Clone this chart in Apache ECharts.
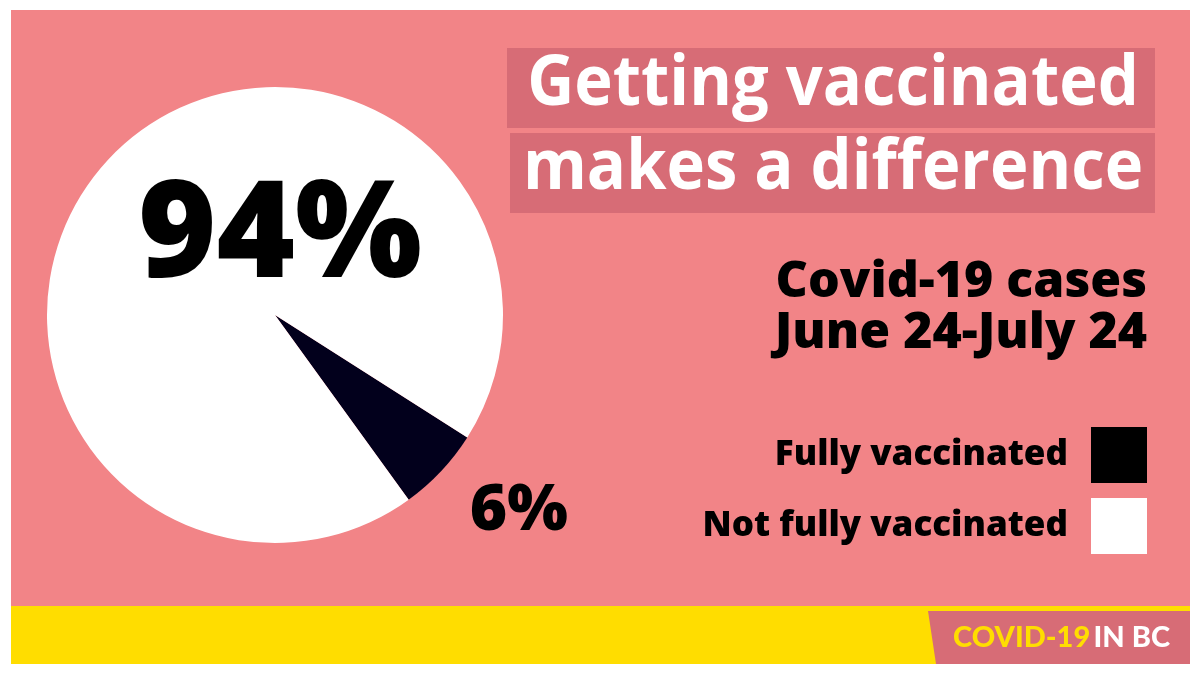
<!DOCTYPE html>
<html lang="en">
<head>
    <meta charset="UTF-8">
    <title>Getting vaccinated makes a difference</title>
    <script src="https://cdn.jsdelivr.net/npm/echarts@6/dist/echarts.min.js"></script>
    <style>
        html, body { margin: 0; padding: 0; background: #fff; }
    </style>
</head>
<body>
    <div id="chart" style="width: 1200px; height: 675px;"></div>
    <script>
        // data
        const groups = ['Fully vaccinated', 'Not fully vaccinated'];
        const shares = [6, 94];
        const sliceColors = ['#02001c', '#ffffff'];
        const legendColors = ['#000000', '#ffffff'];
        const headline = ['Getting vaccinated', 'makes a difference'];
        const subtitle = ['Covid-19 cases', 'June 24-July 24'];

        const pink = '#f28487';
        const darkPink = '#d76c76';
        const yellow = '#ffdd00';
        const font = '"Open Sans", "Noto Sans", sans-serif';

        var myChart = echarts.init(document.getElementById('chart'));

        const pieData = groups.map((g, i) => ({
            name: g,
            value: shares[i],
            itemStyle: { color: sliceColors[i] },
            label: i === 1
                ? { position: 'center', fontSize: 134 }
                : { position: 'outside', fontSize: 64 }
        }));

        const option = {
            backgroundColor: '#ffffff',
            animation: false,
            graphic: [
                // background panels
                { type: 'rect', z: -10, shape: { x: 11, y: 10, width: 1179, height: 597 }, style: { fill: pink } },
                { type: 'rect', z: -10, shape: { x: 11, y: 606, width: 1179, height: 58 }, style: { fill: yellow } },
                { type: 'polygon', z: -9, shape: { points: [[928, 611], [1190, 611], [1190, 664], [936, 664]] }, style: { fill: darkPink } },
                {
                    type: 'text', z: 5, x: 1170, y: 638,
                    style: {
                        text: '{a|COVID-19} {b|IN BC}',
                        align: 'right', verticalAlign: 'middle',
                        rich: {
                            a: { fontFamily: 'Lato, sans-serif', fontWeight: 900, fontSize: 29, fill: yellow },
                            b: { fontFamily: 'Lato, sans-serif', fontWeight: 900, fontSize: 29, fill: '#ffffff' }
                        }
                    }
                },
                // headline boxes
                { type: 'rect', z: -5, shape: { x: 507, y: 48, width: 648, height: 80 }, style: { fill: darkPink } },
                { type: 'rect', z: -5, shape: { x: 510, y: 133, width: 645, height: 80 }, style: { fill: darkPink } },
                {
                    type: 'text', x: 833, y: 85, scaleX: 0.93,
                    style: { text: headline[0], align: 'center', verticalAlign: 'middle', fontFamily: font, fontWeight: 'bold', fontSize: 70, fill: '#ffffff' }
                },
                {
                    type: 'text', x: 833, y: 169, scaleX: 0.93,
                    style: { text: headline[1], align: 'center', verticalAlign: 'middle', fontFamily: font, fontWeight: 'bold', fontSize: 70, fill: '#ffffff' }
                },
                // subtitle
                {
                    type: 'text', x: 1147, y: 283,
                    style: { text: subtitle[0], align: 'right', verticalAlign: 'middle', fontFamily: font, fontWeight: 800, fontSize: 50, fill: '#000000' }
                },
                {
                    type: 'text', x: 1147, y: 334,
                    style: { text: subtitle[1], align: 'right', verticalAlign: 'middle', fontFamily: font, fontWeight: 800, fontSize: 50, fill: '#000000' }
                }
            ],
            legend: {
                orient: 'vertical',
                right: 53,
                top: 427,
                padding: 0,
                align: 'right',
                icon: 'rect',
                itemWidth: 56,
                itemHeight: 56,
                itemGap: 15,
                selectedMode: false,
                data: groups.map((g, i) => ({ name: g, itemStyle: { color: legendColors[i] } })),
                textStyle: {
                    fontFamily: font,
                    fontWeight: 800,
                    fontSize: 35,
                    color: '#000000',
                    padding: [0, 18, 0, 0]
                }
            },
            series: [
                {
                    name: 'Covid-19 cases',
                    type: 'pie',
                    center: [275, 315],
                    radius: 228,
                    startAngle: -32.5,
                    clockwise: true,
                    silent: true,
                    data: pieData,
                    label: {
                        formatter: '{d}%',
                        fontFamily: font,
                        fontWeight: 800,
                        color: '#000000'
                    },
                    labelLine: { show: false, length: 30, length2: 0 },
                    labelLayout: function (params) {
                        if (params.dataIndex === 1) return { dx: 5, dy: -76 };
                        return { dx: 2, dy: 20 };
                    },
                    emphasis: { disabled: true }
                }
            ]
        };

        myChart.setOption(option);
    </script>
</body>
</html>
